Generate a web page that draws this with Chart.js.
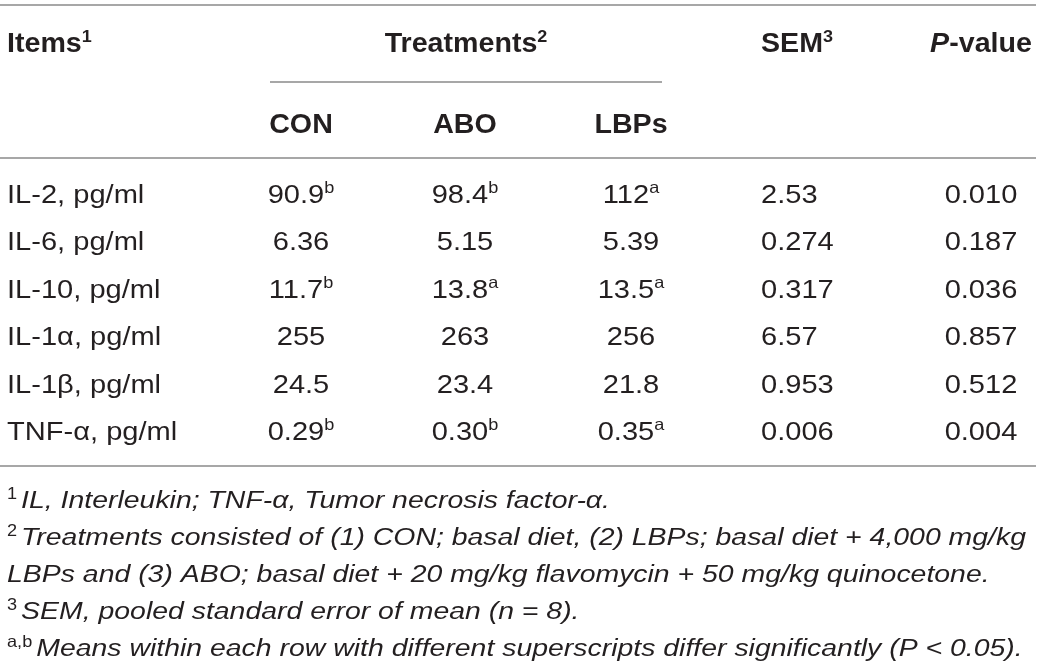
<!DOCTYPE html>
<html>
<head>
<meta charset="utf-8">
<script src="https://cdn.jsdelivr.net/npm/chart.js@4.4.1/dist/chart.umd.min.js"></script>
<style>
  html, body { margin: 0; padding: 0; background: #fff; }
  canvas { display: block; }
</style>
</head>
<body>
<canvas id="tableChart" width="1040" height="670"></canvas>
<script>
// table data
const items = ["IL-2, pg/ml", "IL-6, pg/ml", "IL-10, pg/ml", "IL-1\u03b1, pg/ml", "IL-1\u03b2, pg/ml", "TNF-\u03b1, pg/ml"];
const conValues = ["90.9", "6.36", "11.7", "255", "24.5", "0.29"];
const conSup = ["b", "", "b", "", "", "b"];
const aboValues = ["98.4", "5.15", "13.8", "263", "23.4", "0.30"];
const aboSup = ["b", "", "a", "", "", "b"];
const lbpsValues = ["112", "5.39", "13.5", "256", "21.8", "0.35"];
const lbpsSup = ["a", "", "a", "", "", "a"];
const semValues = ["2.53", "0.274", "0.317", "6.57", "0.953", "0.006"];
const pValues = ["0.010", "0.187", "0.036", "0.857", "0.512", "0.004"];
const treatments = ["CON", "ABO", "LBPs"];
const footnotes = [
  { sup: "1", text: "IL, Interleukin; TNF-\u03b1, Tumor necrosis factor-\u03b1." },
  { sup: "2", text: "Treatments consisted of (1) CON; basal diet, (2) LBPs; basal diet + 4,000 mg/kg" },
  { sup: "", text: "LBPs and (3) ABO; basal diet + 20 mg/kg flavomycin + 50 mg/kg quinocetone." },
  { sup: "3", text: "SEM, pooled standard error of mean (n = 8)." },
  { sup: "a,b", text: "Means within each row with different superscripts differ significantly (P < 0.05)." }
];

// layout (in scale units = px of the 1040x670 frame)
const FAMILY = '"Liberation Sans", Arial, sans-serif';
const colX = { item: 7, con: 301, abo: 465, lbps: 631, sem: 761, p: 981 };
const headX = { treat: 466, sem: 797 };
const headRow1 = 52, headRow2 = 133;
const firstRow = 203, rowStep = 47.4;
const noteFirst = 508, noteStep = 37;
const rules = [
  { y: 5, x0: 0, x1: 1036 },
  { y: 82, x0: 270, x1: 662 },
  { y: 158, x0: 0, x1: 1036 },
  { y: 466, x0: 0, x1: 1036 }
];
const textColor = "#231f20";
const ruleColor = "#8a8a8a";

const styles = {
  head: { font: "bold 27px " + FAMILY, sx: 1.06 },
  headItalic: { font: "italic bold 27px " + FAMILY, sx: 1.06 },
  headSup: { font: "bold 17px " + FAMILY, sx: 1.06, dy: 10 },
  cell: { font: "25.5px " + FAMILY, sx: 1.14 },
  cellSup: { font: "16.5px " + FAMILY, sx: 1.1, dy: 10 },
  note: { font: "italic 24.5px " + FAMILY, sx: 1.16 },
  noteSup: { font: "16.5px " + FAMILY, sx: 1.1, dy: 9 }
};

// draws a run of parts [{t, s, gap}] starting at x, aligned left/center
function drawRich(ctx, parts, x, y, align) {
  let w = 0;
  parts.forEach(p => {
    ctx.font = p.s.font;
    p.w = ctx.measureText(p.t).width * p.s.sx + (p.gap || 0);
    w += p.w;
  });
  let cx = align === "center" ? x - w / 2 : x;
  parts.forEach(p => {
    ctx.font = p.s.font;
    ctx.save();
    ctx.translate(cx, y - (p.s.dy || 0));
    ctx.scale(p.s.sx, 1);
    ctx.fillText(p.t, 0, 0);
    ctx.restore();
    cx += p.w;
  });
}

function cell(value, sup) {
  const parts = [{ t: value, s: styles.cell }];
  if (sup) parts.push({ t: sup, s: styles.cellSup });
  return parts;
}

const tablePlugin = {
  id: "tablePlugin",
  afterDraw(chart) {
    const ctx = chart.ctx;
    const xs = chart.scales.x, ys = chart.scales.y;
    const px = v => xs.getPixelForValue(v);
    const py = v => ys.getPixelForValue(v);
    ctx.save();
    ctx.textBaseline = "alphabetic";
    ctx.textAlign = "left";
    ctx.fillStyle = textColor;

    // horizontal rules
    ctx.strokeStyle = ruleColor;
    ctx.lineWidth = 1.5;
    rules.forEach(r => {
      ctx.beginPath();
      ctx.moveTo(px(r.x0), py(r.y));
      ctx.lineTo(px(r.x1), py(r.y));
      ctx.stroke();
    });

    // header
    drawRich(ctx, [{ t: "Items", s: styles.head }, { t: "1", s: styles.headSup }], px(colX.item), py(headRow1), "left");
    drawRich(ctx, [{ t: "Treatments", s: styles.head }, { t: "2", s: styles.headSup }], px(headX.treat), py(headRow1), "center");
    drawRich(ctx, [{ t: "SEM", s: styles.head }, { t: "3", s: styles.headSup }], px(headX.sem), py(headRow1), "center");
    drawRich(ctx, [{ t: "P", s: styles.headItalic }, { t: "-value", s: styles.head }], px(colX.p), py(headRow1), "center");
    [colX.con, colX.abo, colX.lbps].forEach((cx, i) => {
      drawRich(ctx, [{ t: treatments[i], s: styles.head }], px(cx), py(headRow2), "center");
    });

    // body rows
    items.forEach((name, i) => {
      const y = py(firstRow + i * rowStep);
      drawRich(ctx, [{ t: name, s: styles.cell }], px(colX.item), y, "left");
      drawRich(ctx, cell(conValues[i], conSup[i]), px(colX.con), y, "center");
      drawRich(ctx, cell(aboValues[i], aboSup[i]), px(colX.abo), y, "center");
      drawRich(ctx, cell(lbpsValues[i], lbpsSup[i]), px(colX.lbps), y, "center");
      drawRich(ctx, cell(semValues[i], ""), px(colX.sem), y, "left");
      drawRich(ctx, cell(pValues[i], ""), px(colX.p), y, "center");
    });

    // footnotes
    footnotes.forEach((n, i) => {
      const y = py(noteFirst + i * noteStep);
      const parts = [];
      if (n.sup) parts.push({ t: n.sup, s: styles.noteSup, gap: 4 });
      parts.push({ t: n.text, s: styles.note });
      drawRich(ctx, parts, px(colX.item), y, "left");
    });
    ctx.restore();
  }
};

new Chart(document.getElementById("tableChart"), {
  type: "scatter",
  data: { datasets: [] },
  options: {
    responsive: false,
    animation: false,
    layout: { padding: 0 },
    plugins: { legend: { display: false }, tooltip: { enabled: false } },
    scales: {
      x: { type: "linear", min: 0, max: 1040, display: false },
      y: { type: "linear", min: 0, max: 670, reverse: true, display: false }
    }
  },
  plugins: [tablePlugin]
});
</script>
</body>
</html>
